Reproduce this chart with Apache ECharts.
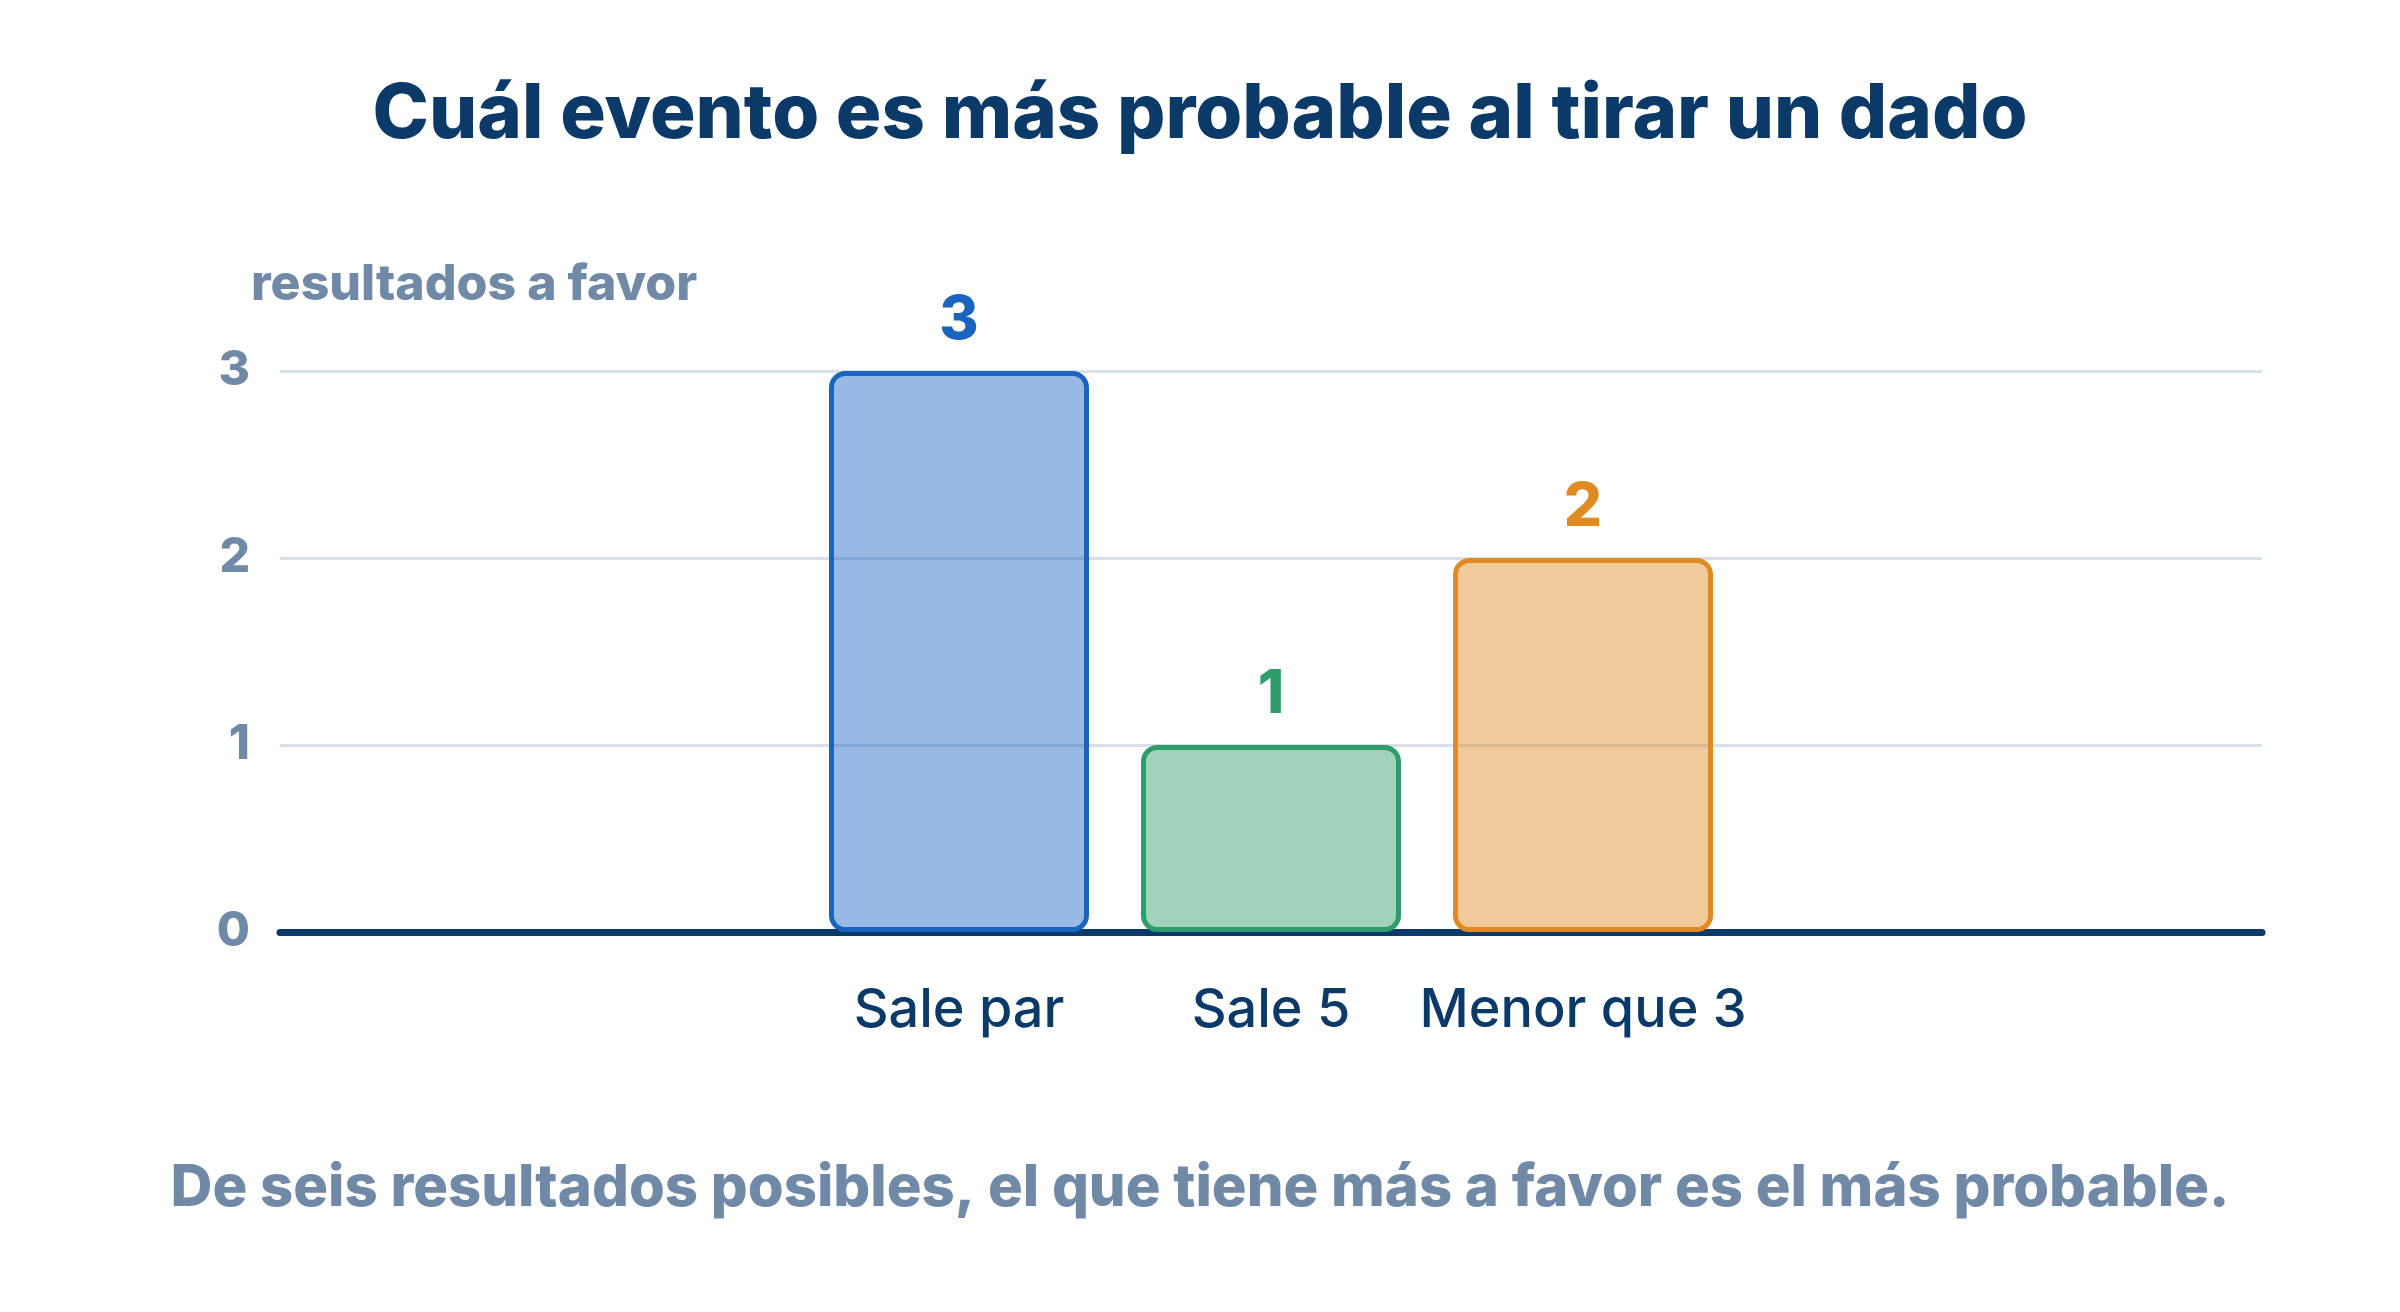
<!DOCTYPE html>
<html>
<head>
<meta charset="utf-8">
<script src="https://cdn.jsdelivr.net/npm/echarts@6/dist/echarts.min.js"></script>
<style>
  html, body { margin: 0; padding: 0; background: #fff; }
  #chart { width: 2400px; height: 1312px; }
</style>
</head>
<body>
<div id="chart"></div>
<script>
var categories = ['Sale par', 'Sale 5', 'Menor que 3'];
var values = [3, 1, 2];
var yTicks = [0, 1, 2, 3];

// colores de cada barra (borde / texto)
var palette = ['#1a64c0', '#2e9d6b', '#e08a22'];
var fills = ['rgba(26,100,192,0.45)', 'rgba(46,157,107,0.45)', 'rgba(224,138,34,0.45)'];

var navy = '#0b3a68';
var grey = '#6f89a7';
var font = 'Inter, "Noto Sans", sans-serif';

var chart = echarts.init(document.getElementById('chart'));

var barData = values.map(function(v, i) {
	return {
		value: v,
		itemStyle: {
			color: fills[i],
			borderColor: palette[i],
			borderWidth: 5,
			borderRadius: 14
		},
		label: { color: palette[i] }
	};
});

var option = {
	backgroundColor: '#fff',
	animation: false,
	title: [{
		text: 'Cuál evento es más probable al tirar un dado',
		left: 'center',
		top: 72,
		textStyle: { color: navy, fontSize: 76, fontWeight: 800, fontFamily: font }
	}, {
		text: 'resultados a favor',
		left: 246,
		top: 255,
		textStyle: { color: grey, fontSize: 50, fontWeight: 800, fontFamily: font }
	}, {
		text: 'De seis resultados posibles, el que tiene más a favor es el más probable.',
		left: 'center',
		top: 1155,
		textStyle: { color: grey, fontSize: 58, fontWeight: 800, fontFamily: font }
	}],
	grid: [
		// rejilla ancha: líneas guía y eje base
		{ left: 280, right: 138, top: 371, bottom: 380 },
		// rejilla de las barras, centrada
		{ left: 803, width: 936, top: 371, bottom: 380 }
	],
	xAxis: [{
		gridIndex: 0,
		type: 'category',
		data: [],
		axisLine: { show: true, lineStyle: { color: navy, width: 7 } },
		axisTick: { show: false },
		axisLabel: { show: false },
		splitLine: { show: false }
	}, {
		gridIndex: 1,
		type: 'category',
		data: categories,
		axisLine: { show: false },
		axisTick: { show: false },
		axisLabel: {
			color: navy,
			fontSize: 54,
			fontWeight: 500,
			fontFamily: font,
			margin: 52,
			interval: 0
		}
	}],
	yAxis: [{
		gridIndex: 0,
		type: 'value',
		min: yTicks[0],
		max: yTicks[yTicks.length - 1],
		interval: 1,
		axisLine: { show: false },
		axisTick: { show: false },
		splitLine: { show: true, lineStyle: { color: '#d9e0e8', width: 3 } },
		axisLabel: {
			color: grey,
			fontSize: 48,
			fontWeight: 800,
			fontFamily: font,
			margin: 30
		}
	}, {
		gridIndex: 1,
		type: 'value',
		min: yTicks[0],
		max: yTicks[yTicks.length - 1],
		interval: 1,
		show: false
	}],
	series: [{
		type: 'bar',
		xAxisIndex: 1,
		yAxisIndex: 1,
		barWidth: 260,
		z: 5,
		data: barData,
		label: {
			show: true,
			position: 'top',
			distance: 20,
			fontSize: 60,
			fontWeight: 800,
			fontFamily: font
		}
	}]
};

chart.setOption(option);
</script>
</body>
</html>
